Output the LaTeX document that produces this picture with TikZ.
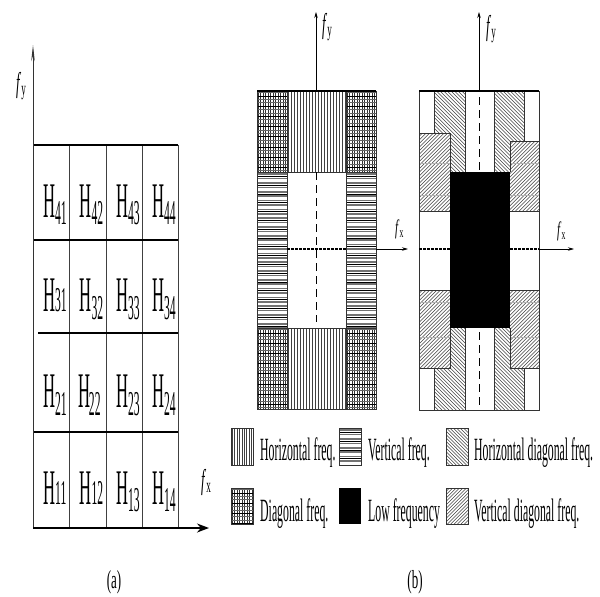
\documentclass[tikz,border=0pt]{standalone}
\usepackage{fontspec}
\setmainfont{Liberation Serif}
\usepackage{graphicx}
\usetikzlibrary{arrows.meta}

\newcommand{\PatV}[6]{%
  \pgfmathtruncatemacro\pnn{(#3-#1)/#5}%
  \begin{scope}\clip (#1,#2) rectangle (#3,#4);
  \foreach \i in {0,...,\pnn}{\draw[#6] ({#1+#5/2+\i*#5},#2) -- ({#1+#5/2+\i*#5},#4);}
  \end{scope}}
\newcommand{\PatH}[6]{%
  \pgfmathtruncatemacro\pnn{(#4-#2)/#5}%
  \begin{scope}\clip (#1,#2) rectangle (#3,#4);
  \foreach \i in {0,...,\pnn}{\draw[#6] (#1,{#2+#5/2+\i*#5}) -- (#3,{#2+#5/2+\i*#5});}
  \end{scope}}
\newcommand{\PatNW}[6]{%
  \pgfmathtruncatemacro\pnn{((#3-#1)+(#4-#2))/#5+1}%
  \begin{scope}\clip (#1,#2) rectangle (#3,#4);
  \foreach \i in {0,...,\pnn}{\draw[#6] ({#1-(#4-#2)+\i*#5},#2) -- ++({#4-#2},{#4-#2});}
  \end{scope}}
\newcommand{\PatNE}[6]{%
  \pgfmathtruncatemacro\pnn{((#3-#1)+(#4-#2))/#5+1}%
  \begin{scope}\clip (#1,#2) rectangle (#3,#4);
  \foreach \i in {0,...,\pnn}{\draw[#6] ({#1+\i*#5},#2) -- ++({-(#4-#2)},{#4-#2});}
  \end{scope}}
\newcommand{\PatG}[4]{%
  \PatV{#1}{#2}{#3}{#4}{2.5}{line width=0.7pt,black!80}%
  \PatH{#1}{#2}{#3}{#4}{3.4}{line width=1.1pt,black!60}%
  \PatH{#1}{#2}{#3}{#4}{10.2}{line width=1pt,black}}
\newcommand{\PatHL}[4]{%
  \PatH{#1}{#2}{#3}{#4}{4.4}{line width=1.7pt,black!55}%
  \PatH{#1}{#2}{#3}{#4}{8.8}{line width=0.9pt,black}}

\newcommand{\Hs}[1]{\scalebox{1}[3]{\fontsize{16.6}{18}\selectfont H\textsubscript{#1}}}
\newcommand{\Hk}[1]{\scalebox{1}[3]{\fontsize{16.6}{18}\selectfont H\kern-1.2pt\textsubscript{#1}}}
\newcommand{\Hn}[1]{\scalebox{1}[3]{\fontsize{16.6}{18}\selectfont H{\fontsize{11.6}{12}\selectfont #1}}}
\newcommand{\FL}[1]{\scalebox{1}[2.2]{\fontsize{13}{14}\selectfont\textit{f}\textsubscript{#1}}}
\newcommand{\FS}[1]{\scalebox{1}[1.9]{\fontsize{11}{12}\selectfont\textit{f}\textsubscript{#1}}}
\newcommand{\LG}[1]{\scalebox{1}[2.75]{\fontsize{11.8}{14}\selectfont #1}}
\newcommand{\CAP}[1]{\scalebox{1}[2]{\fontsize{13}{14}\selectfont #1}}

\begin{document}
\begin{tikzpicture}[x=1pt,y=-1pt,line cap=butt,
  gridv/.style={line width=0.7pt,black!75},
  gridh/.style={line width=1.4pt,black},
  bord/.style={line width=0.8pt,black!80},
  topedge/.style={line width=2.2pt,black},
  pl/.style={line width=0.55pt,black!75},
  faint/.style={line width=0.6pt,black!30},
  axb/.style={line width=0.7pt,black,-{Stealth[length=6pt,width=3.5pt]}},
  lbl/.style={anchor=base west,inner sep=0pt},
  captxt/.style={anchor=base,inner sep=0pt},
  dashv/.style={line width=0.7pt,dash pattern=on 8pt off 5pt},
  doth/.style={line width=1.2pt,dash pattern=on 2.5pt off 1.5pt}]
\useasboundingbox (0,0) rectangle (600,597);

% ---------------- panel (a)
\coordinate (oa) at (33,528);
\coordinate (ya) at (33,45);
\coordinate (xa) at (209,528);
\foreach \xx in {69.5,106,142,178} \draw[gridv] (\xx,145) -- (\xx,528);
\draw[gridh] (33,145) -- (178,145);
\draw[gridh] (33,240) -- (178,240);
\draw[gridh] (38,333) -- (178,333);
\draw[gridh] (33,432) -- (178,432);
\draw[line width=0.9pt,black!80,-{Stealth[length=16pt,width=3.5pt]}] (oa) -- (ya);
\draw[line width=1.6pt,-{Stealth[length=12pt,width=9pt]}] (oa) -- (xa);

\node[lbl] (h41) at (43,217) {\Hs{41}};
\node[lbl] (h42) at (79.5,217) {\Hs{42}};
\node[lbl] (h43) at (116,217) {\Hs{43}};
\node[lbl] (h44) at (152,217) {\Hs{44}};
\node[lbl] (h31) at (43,311.5) {\Hn{31}};
\node[lbl] (h32) at (79.5,311.5) {\Hs{32}};
\node[lbl] (h33) at (116,311.5) {\Hs{33}};
\node[lbl] (h34) at (152,311.5) {\Hs{34}};
\node[lbl] (h21) at (43,407.5) {\Hs{21}};
\node[lbl] (h22) at (78,407.5) {\Hk{22}};
\node[lbl] (h23) at (116,407.5) {\Hs{23}};
\node[lbl] (h24) at (152,407.5) {\Hs{24}};
\node[lbl] (h11) at (43,504) {\Hn{11}};
\node[lbl] (h12) at (79.5,504) {\Hn{12}};
\node[lbl] (h13) at (116,504) {\Hs{13}};
\node[lbl] (h14) at (152,504) {\Hs{14}};
\node[lbl] (fya) at (16,92) {\FL{y}};
\node[lbl] (fxa) at (201,489) {\FL{x}};
\node[captxt] (capa) at (114,588) {\CAP{(a)}};

% ---------------- panel (b) left
\PatG{257}{91}{287}{172}
\PatG{346}{91}{376}{172}
\PatG{257}{328}{287}{409}
\PatG{346}{328}{376}{409}
\PatV{287}{91}{346}{172}{3}{pl}
\PatV{287}{328}{346}{409}{3}{pl}
\PatHL{257}{172}{287}{328}
\PatHL{346}{172}{376}{328}
\draw[bord] (257,91) rectangle (376,409);
\draw[bord] (287,91) -- (287,409);
\draw[bord] (346,91) -- (346,409);
\draw[bord] (257,172) -- (376,172);
\draw[bord] (257,328) -- (376,328);
\draw[topedge] (257,91) -- (376,91);
\draw[dashv] (316,172) -- (316,322);
\draw[doth] (287,249) -- (346,249);
\coordinate (ob1) at (316,91);
\coordinate (yb1) at (316,12);
\coordinate (ox1) at (376,249);
\coordinate (xb1) at (408,249);
\draw[axb] (ob1) -- (yb1);
\draw[axb] (ox1) -- (xb1);
\node[lbl] (fyb1) at (322,33) {\FL{y}};
\node[lbl] (fxb1) at (395,234) {\FS{x}};

% ---------------- panel (b) right
\PatNW{434.7}{91}{465}{172}{3.6}{pl}
\PatNW{494}{91}{524}{172}{3.6}{pl}
\PatNW{434.7}{328}{465}{410}{3.6}{pl}
\PatNW{494}{328}{524}{410}{3.6}{pl}
\fill[white] (419,133) rectangle (450,211);
\fill[white] (510,141) rectangle (539,211);
\fill[white] (419,290) rectangle (450,368);
\fill[white] (510,290) rectangle (539,368);
\PatNE{419}{133}{450}{211}{3.6}{pl}
\PatNE{510}{141}{539}{211}{3.6}{pl}
\PatNE{419}{290}{450}{368}{3.6}{pl}
\PatNE{510}{290}{539}{368}{3.6}{pl}
\foreach \yy in {163,195,302,337} {
  \draw[faint] (419,\yy) -- (450,\yy);
  \draw[faint] (510,\yy) -- (539,\yy);
}
\fill[black] (450,172) rectangle (510,328);
\draw[bord] (419,91) rectangle (539,410);
\draw[bord] (434.7,91) -- (434.7,133);
\draw[bord] (524,91) -- (524,141);
\draw[bord] (434.7,368) -- (434.7,410);
\draw[bord] (524,368) -- (524,410);
\draw[bord] (465,91) -- (465,172);
\draw[bord] (494,91) -- (494,172);
\draw[bord] (465,328) -- (465,410);
\draw[bord] (494,328) -- (494,410);
\draw[bord] (419,133) -- (450,133) -- (450,172);
\draw[bord] (539,141) -- (510,141) -- (510,172);
\draw[bord] (419,211) -- (450,211);
\draw[bord] (510,211) -- (539,211);
\draw[bord] (419,290) -- (450,290);
\draw[bord] (510,290) -- (539,290);
\draw[bord] (419,368) -- (450,368) -- (450,328);
\draw[bord] (539,368) -- (510,368) -- (510,328);
\draw[topedge] (419,91) -- (539,91);
\draw[dashv] (479,97) -- (479,170);
\draw[dashv] (479,332) -- (479,405);
\draw[doth] (419,249) -- (450,249);
\draw[doth] (510,249) -- (539,249);
\coordinate (ob2) at (479,91);
\coordinate (yb2) at (479,12);
\coordinate (ox2) at (539,249);
\coordinate (xb2) at (574,249);
\draw[axb] (ob2) -- (yb2);
\draw[axb] (ox2) -- (xb2);
\node[lbl] (fyb2) at (486,35) {\FL{y}};
\node[lbl] (fxb2) at (557,236) {\FS{x}};

% ---------------- legend
\PatV{231}{428}{253}{465}{2.4}{pl}
\draw[bord] (231,428) rectangle (253,465);
\node[lbl] (t1) at (260,460) {\LG{Horizontal freq.}};
\PatHL{339}{428}{361}{465}
\draw[bord] (339,428) rectangle (361,465);
\node[lbl] (t2) at (368,460) {\LG{Vertical freq.}};
\PatNW{446}{428}{468}{465}{3.4}{pl}
\draw[bord] (446,428) rectangle (468,465);
\node[lbl] (t3) at (474,460) {\LG{Horizontal diagonal freq.}};

\PatG{231}{488}{253}{524}
\draw[bord] (231,488) rectangle (253,524);
\node[lbl] (t4) at (260,521) {\LG{Diagonal freq.}};
\fill[black] (339,488) rectangle (361,524);
\node[lbl] (t5) at (368,521) {\LG{Low frequency}};
\PatNE{446}{488}{468}{524}{3.4}{pl}
\draw[bord] (446,488) rectangle (468,524);
\node[lbl] (t6) at (474,521) {\LG{Vertical diagonal freq.}};

\node[captxt] (capb) at (415,588) {\CAP{(b)}};
\end{tikzpicture}
\end{document}
